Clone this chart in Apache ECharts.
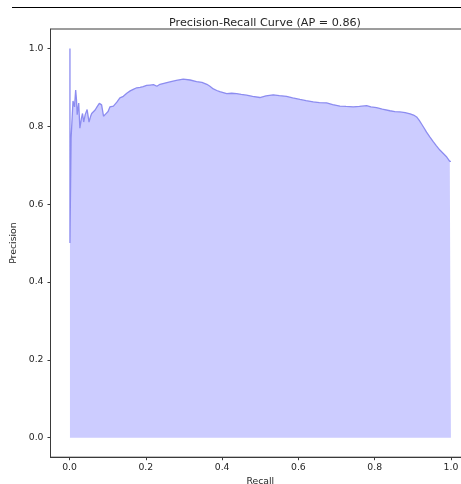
<!DOCTYPE html>
<html>
<head>
<meta charset="utf-8">
<script src="https://cdn.jsdelivr.net/npm/echarts@6/dist/echarts.min.js"></script>
<style>
  html, body { margin: 0; padding: 0; background: #fff; }
  #chart { width: 461px; height: 484px; }
</style>
</head>
<body>
<div id="chart"></div>
<script>
// Precision-recall pairs of the classifier, in recall order
const recall = [
  0.001, 0.001, 0.004, 0.009, 0.013, 0.016, 0.018, 0.020, 0.024, 0.027,
  0.031, 0.034, 0.037, 0.041, 0.046, 0.051, 0.055, 0.058, 0.063, 0.067,
  0.072, 0.078, 0.084, 0.089, 0.095, 0.101, 0.106, 0.115, 0.124, 0.132,
  0.141, 0.150, 0.159, 0.167, 0.176, 0.185, 0.193, 0.202, 0.211, 0.220,
  0.229, 0.237, 0.250, 0.263, 0.280, 0.298, 0.316, 0.333, 0.347, 0.360,
  0.368, 0.377, 0.386, 0.394, 0.412, 0.425, 0.438, 0.450, 0.464, 0.480,
  0.499, 0.515, 0.534, 0.550, 0.569, 0.585, 0.604, 0.620, 0.639, 0.655,
  0.674, 0.690, 0.709, 0.725, 0.744, 0.760, 0.779, 0.790, 0.805, 0.820,
  0.840, 0.853, 0.866, 0.880, 0.893, 0.902, 0.910, 0.917, 0.923, 0.930,
  0.936, 0.945, 0.954, 0.962, 0.971, 0.980, 0.989, 0.997, 1.000
];
const precision = [
  1.000, 0.500, 0.770, 0.865, 0.850, 0.893, 0.870, 0.830, 0.860, 0.795,
  0.820, 0.833, 0.811, 0.830, 0.843, 0.811, 0.825, 0.833, 0.838, 0.842,
  0.850, 0.859, 0.855, 0.826, 0.832, 0.838, 0.850, 0.852, 0.862, 0.873,
  0.877, 0.885, 0.891, 0.895, 0.899, 0.900, 0.902, 0.905, 0.906, 0.907,
  0.903, 0.908, 0.911, 0.914, 0.918, 0.921, 0.919, 0.915, 0.913, 0.908,
  0.903, 0.896, 0.892, 0.889, 0.884, 0.885, 0.884, 0.882, 0.880, 0.877,
  0.874, 0.878, 0.881, 0.879, 0.877, 0.873, 0.869, 0.866, 0.863, 0.861,
  0.860, 0.856, 0.852, 0.851, 0.850, 0.851, 0.853, 0.850, 0.848, 0.844,
  0.840, 0.838, 0.837, 0.835, 0.832, 0.829, 0.824, 0.815, 0.806, 0.795,
  0.785, 0.772, 0.760, 0.750, 0.739, 0.730, 0.721, 0.710, 0.710
];
const xTicks = [0.0, 0.2, 0.4, 0.6, 0.8, 1.0];
const yTicks = [0.0, 0.2, 0.4, 0.6, 0.8, 1.0];
const averagePrecision = 0.86;

const points = recall.map((r, i) => [r, precision[i]]);

const FONT = 'DejaVu Sans';
const INK = '#262626';
const SPINE = '#3a3a3a';

const chart = echarts.init(document.getElementById('chart'), null, { renderer: 'canvas' });

chart.setOption({
  animation: false,
  backgroundColor: '#ffffff',
  title: {
    text: 'Precision-Recall Curve (AP = ' + averagePrecision.toFixed(2) + ')',
    left: 260,
    top: 13,
    textAlign: 'center',
    textStyle: { fontFamily: FONT, fontSize: 11.2, fontWeight: 'normal', color: INK }
  },
  graphic: [{
    type: 'line',
    shape: { x1: 12, y1: 7.5, x2: 461, y2: 7.5 },
    style: { stroke: '#000', lineWidth: 1.2 }
  }],
  grid: {
    left: 50.5,
    top: 29,
    width: 419.5,
    height: 428.2,
    outerBoundsMode: 'none',
    containLabel: false,
    show: true,
    borderColor: SPINE,
    borderWidth: 1,
    backgroundColor: 'transparent'
  },
  xAxis: {
    type: 'value',
    min: -0.05,
    max: 1.05,
    name: 'Recall',
    nameLocation: 'middle',
    nameGap: 19,
    nameTextStyle: { fontFamily: FONT, fontSize: 9.3, color: INK },
    axisLine: { show: true, onZero: false, lineStyle: { color: SPINE, width: 1 } },
    axisTick: { show: true, inside: false, length: 3, customValues: xTicks, lineStyle: { color: SPINE } },
    axisLabel: {
      customValues: xTicks,
      formatter: v => v.toFixed(1),
      margin: 6,
      fontFamily: FONT, fontSize: 9.3, color: INK
    },
    splitLine: { show: false }
  },
  yAxis: {
    type: 'value',
    min: -0.05,
    max: 1.05,
    name: 'Precision',
    nameLocation: 'middle',
    nameRotate: 90,
    nameGap: 25,
    nameTextStyle: { fontFamily: FONT, fontSize: 9.3, color: INK },
    axisLine: { show: true, onZero: false, lineStyle: { color: SPINE, width: 1 } },
    axisTick: { show: true, inside: false, length: 3, customValues: yTicks, lineStyle: { color: SPINE } },
    axisLabel: {
      customValues: yTicks,
      formatter: v => v.toFixed(1),
      margin: 7,
      fontFamily: FONT, fontSize: 9.3, color: INK
    },
    splitLine: { show: false }
  },
  series: [{
    type: 'line',
    data: points,
    showSymbol: false,
    symbol: 'none',
    smooth: false,
    lineStyle: { color: '#8c8cf0', width: 1.3 },
    areaStyle: { color: '#ccccff', opacity: 1, origin: 0 },
    z: 2
  }]
});
</script>
</body>
</html>
